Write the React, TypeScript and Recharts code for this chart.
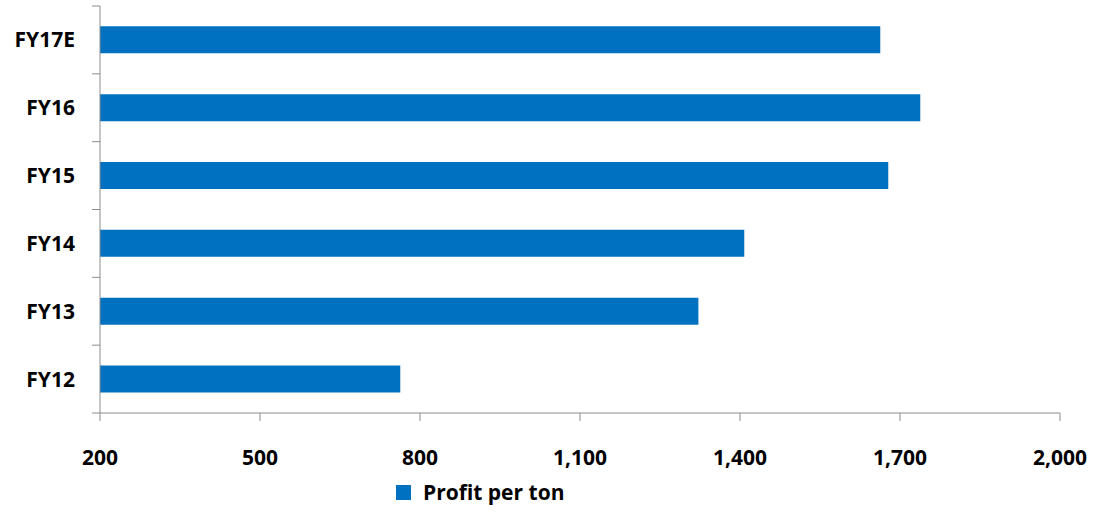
import React from "react";
import { BarChart, Bar, XAxis, YAxis, Legend } from "recharts";

const categories = ["FY17E", "FY16", "FY15", "FY14", "FY13", "FY12"];
const profitPerTon = [1663, 1738, 1678, 1408, 1322, 763];
const xTicks = [200, 500, 800, 1100, 1400, 1700, 2000];
const seriesName = "Profit per ton";

const data = categories.map((c, i) => ({ name: c, value: profitPerTon[i] }));

const FONT = "'Open Sans', 'DejaVu Sans', sans-serif";
const BLUE = "#0070C0";
const AXIS = "#8c8c8c";
const TICK_SIZE = 8;
const TICK_MARGIN = 17;

const fmt = (v: number) => v.toLocaleString("en-US");

const YTick = (props: any) => {
  const { x, y, payload, index, visibleTicksCount } = props;
  const half = payload && typeof payload.offset === "number" ? payload.offset : 0;
  const axisX = x + TICK_SIZE + TICK_MARGIN;
  const isLast = index === (visibleTicksCount ?? categories.length) - 1;
  return (
    <g>
      <line x1={axisX - TICK_SIZE} x2={axisX} y1={y - half} y2={y - half} stroke={AXIS} />
      {isLast && (
        <line x1={axisX - TICK_SIZE} x2={axisX} y1={y + half} y2={y + half} stroke={AXIS} />
      )}
      <text
        x={x}
        y={y}
        dy="0.355em"
        textAnchor="end"
        fill="#000"
        fontFamily={FONT}
        fontWeight={700}
        fontSize={21}
      >
        {payload.value}
      </text>
    </g>
  );
};

const LegendContent = () => (
  <div style={{ position: "relative", height: 35, width: 1102 }}>
    <div
      style={{
        position: "absolute",
        left: 396,
        top: 8,
        width: 15,
        height: 15,
        background: BLUE,
      }}
    />
    <div
      style={{
        position: "absolute",
        left: 423,
        top: 0,
        lineHeight: "31px",
        fontFamily: FONT,
        fontWeight: 700,
        fontSize: 21,
        color: "#000",
        whiteSpace: "nowrap",
      }}
    >
      {seriesName}
    </div>
  </div>
);

export default function App() {
  return (
    <div style={{ position: "absolute", left: 0, top: 0, width: 1102, height: 512, background: "#fff" }}>
      <BarChart
        width={1102}
        height={512}
        data={data}
        layout="vertical"
        margin={{ top: 6, right: 42, bottom: 0, left: 0 }}
        barCategoryGap="30%"
      >
        <XAxis
          type="number"
          domain={[200, 2000]}
          ticks={xTicks}
          allowDataOverflow
          tickFormatter={fmt}
          height={64}
          tickSize={8}
          tickMargin={29}
          stroke={AXIS}
          tickLine={{ stroke: AXIS }}
          tick={{ fill: "#000", fontFamily: FONT, fontWeight: 700, fontSize: 21 }}
        />
        <YAxis
          type="category"
          dataKey="name"
          width={100}
          tickSize={TICK_SIZE}
          tickMargin={TICK_MARGIN}
          stroke={AXIS}
          tickLine={false}
          interval={0}
          tick={<YTick />}
        />
        <Legend
          verticalAlign="bottom"
          height={35}
          content={LegendContent}
          wrapperStyle={{ left: 0, width: 1102 }}
        />
        <Bar dataKey="value" name={seriesName} fill={BLUE} isAnimationActive={false} />
      </BarChart>
    </div>
  );
}
